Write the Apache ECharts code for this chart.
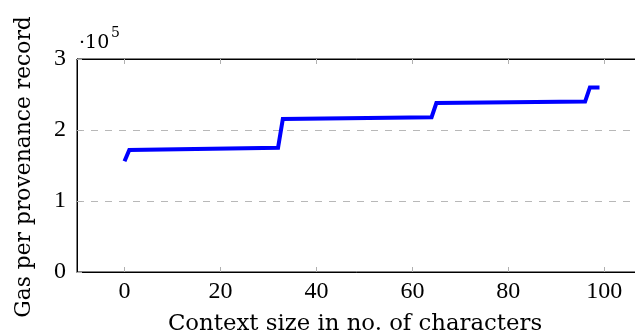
<!DOCTYPE html>
<html><head><meta charset="utf-8">
<script src="https://cdn.jsdelivr.net/npm/echarts@6/dist/echarts.min.js"></script>
<style>html,body{margin:0;padding:0;background:#fff}#c{width:635px;height:336px}</style>
</head><body><div id="c"></div>
<script>
const xValues = [0, 1, 32, 33, 64, 65, 96, 97, 99];
const gasValues = [156000, 172000, 175000, 215500, 218000, 238000, 240000, 260000, 260000];
const yTicks = [0, 1, 2, 3];
const xTicks = [0, 20, 40, 60, 80, 100];
const xTitle = 'Context size in no. of characters';
const yTitle = 'Gas per provenance record';

const FONT = 'Liberation Serif';
const NFONT = 'DejaVu Serif';
const chart = echarts.init(document.getElementById('c'), null, {renderer: 'canvas'});
const tickStyle = {show: true, inside: true, length: 5, lineStyle: {color: '#b0b0b0', width: 1}};
chart.setOption({
  animation: false,
  grid: {left: 77, top: 59, width: 570, height: 213, show: true, borderColor: '#000', borderWidth: 1,
    containLabel: false, outerBoundsMode: 'none'},
  xAxis: [{
    type: 'value', min: -9.9, max: 108.9, interval: 20,
    axisLine: {show: true, onZero: false, lineStyle: {color: '#000', width: 1}},
    axisTick: Object.assign({customValues: xTicks}, tickStyle),
    axisLabel: {customValues: xTicks, color: '#000', fontFamily: FONT, fontSize: 24, margin: 8},
    splitLine: {show: false}
  }, {
    type: 'value', position: 'top', min: -9.9, max: 108.9,
    axisLine: {show: true, onZero: false, lineStyle: {color: '#000'}},
    axisTick: Object.assign({customValues: xTicks}, tickStyle),
    axisLabel: {show: false}, splitLine: {show: false}
  }],
  yAxis: [{
    type: 'value', min: 0, max: 300000, interval: 100000,
    axisLine: {show: true, onZero: false, lineStyle: {color: '#000', width: 1}},
    axisTick: tickStyle,
    axisLabel: {color: '#000', fontFamily: FONT, fontSize: 24, margin: 11,
      formatter: v => String(yTicks[Math.round(v / 100000)])},
    splitLine: {show: true, lineStyle: {color: '#b8b8b8', type: [7, 7], width: 1}}
  }],
  graphic: [{
    type: 'text', x: 355, y: 324,
    style: {text: xTitle, fontFamily: NFONT, fontSize: 22.8, fill: '#000', align: 'center', verticalAlign: 'middle'}
  }, {
    type: 'text', x: 24, y: 167, rotation: Math.PI / 2,
    style: {text: yTitle, fontFamily: NFONT, fontSize: 21.8, fill: '#000', align: 'center', verticalAlign: 'middle'}
  }, {
    type: 'text', left: 79, top: 34,
    style: {text: '·10', fontFamily: NFONT, fontSize: 19, fill: '#000'}
  }, {
    type: 'text', left: 111, top: 26,
    style: {text: '5', fontFamily: NFONT, fontSize: 14, fill: '#000'}
  }],
  series: [{
    type: 'line', xAxisIndex: 0, yAxisIndex: 0,
    data: xValues.map((x, i) => [x, gasValues[i]]),
    showSymbol: false, symbol: 'none',
    lineStyle: {color: '#0000ff', width: 4, cap: 'butt', join: 'miter'}
  }]
});
</script></body></html>
